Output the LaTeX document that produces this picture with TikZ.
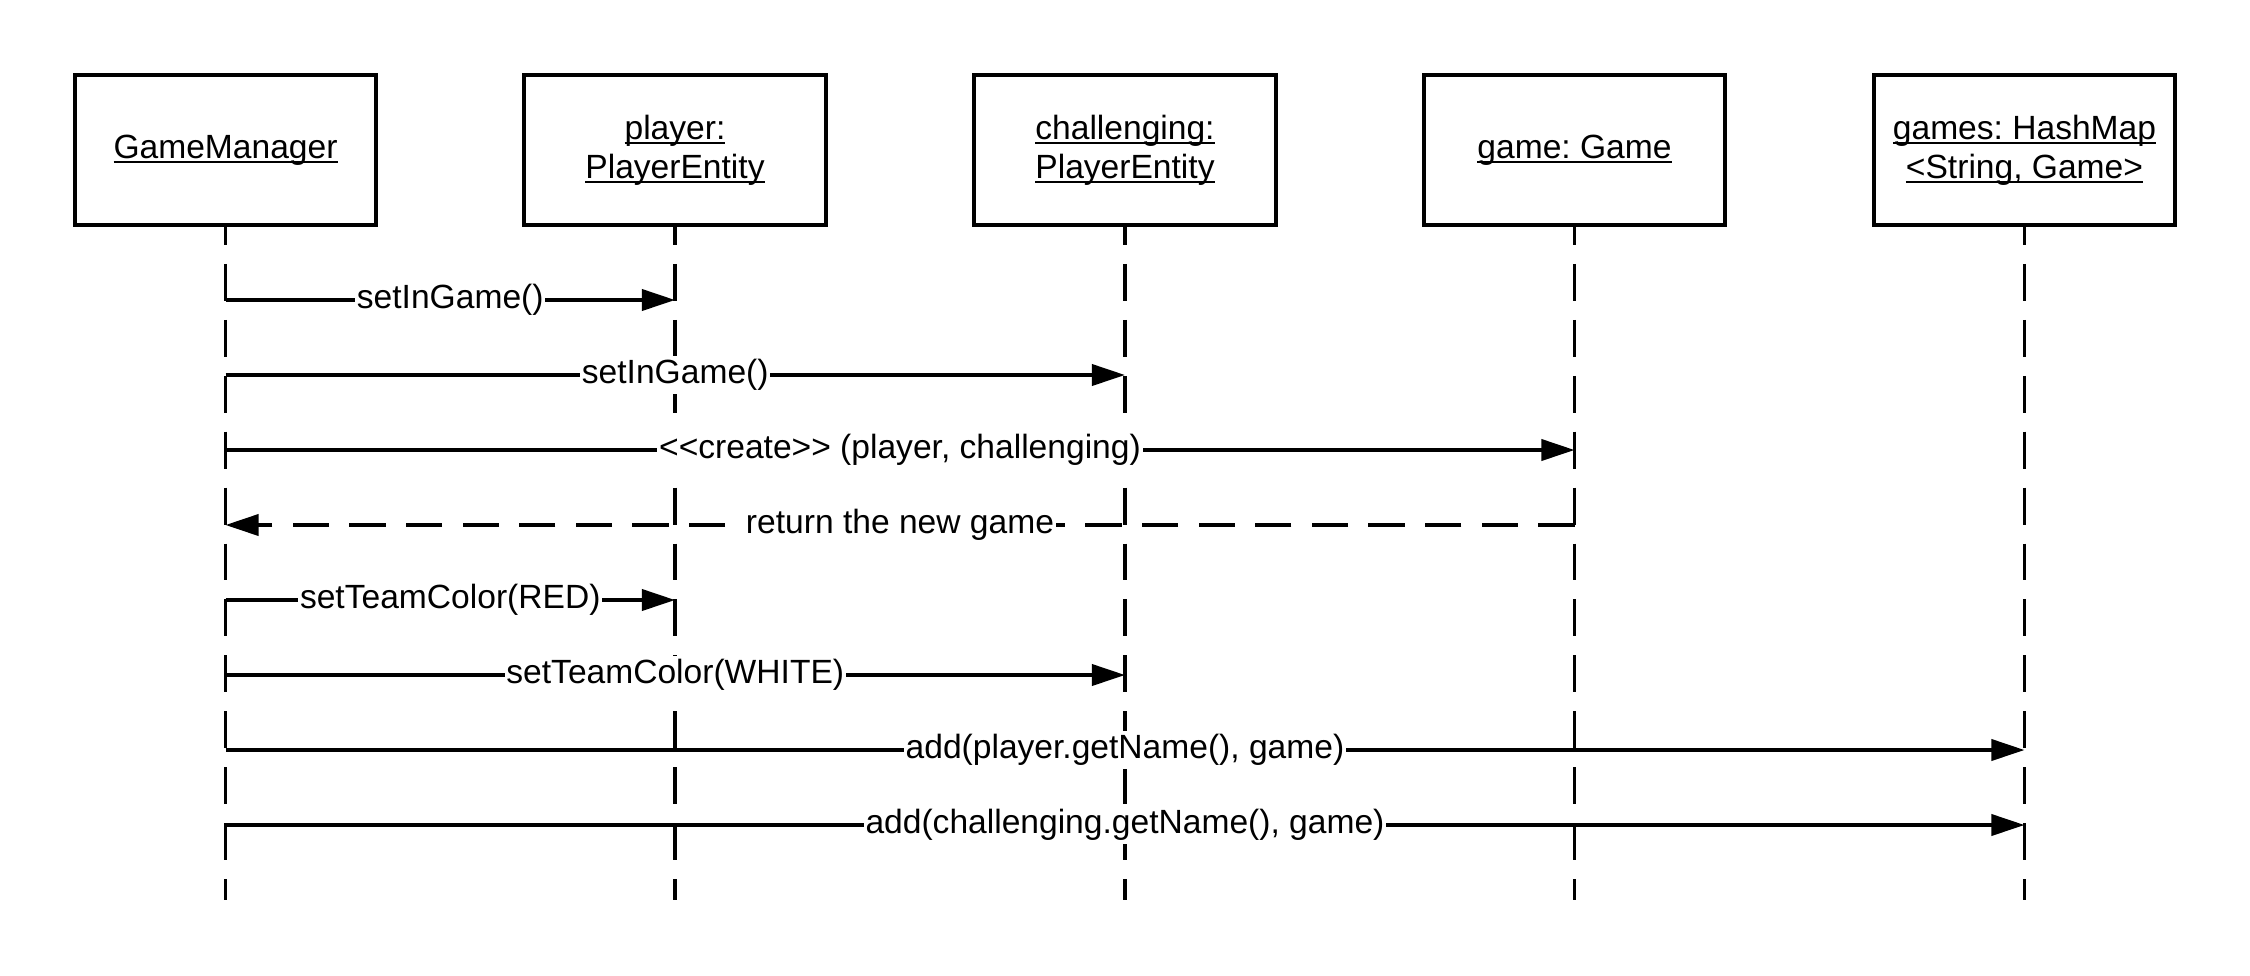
\documentclass[tikz,border=0pt]{standalone}
\usepackage{fontspec}
\setmainfont{Liberation Sans}
\usetikzlibrary{arrows.meta}
\frenchspacing

% underlined object name
\newcommand{\objname}[1]{\setbox0\hbox{#1}\rlap{\rule[-1.3pt]{\wd0}{0.45pt}}\box0}

\tikzset{
	object/.style={draw, line width=1.15pt, minimum width=3.01cm, minimum height=1.5cm,
		align=center, inner sep=0pt, font=\fontsize{9.55}{11}\selectfont},
	lifeline/.style={line width=1.1pt, dash pattern=on 10.5pt off 5.4pt, dash phase=5.4pt},
	msg/.style={line width=1.05pt, -{Triangle[length=0.33cm,width=0.21cm]}},
	reply/.style={msg, dash pattern=on 10.3pt off 5.8pt},
	lbl/.style={fill=white, inner xsep=0.5pt, inner ysep=1pt, font=\fontsize{9.55}{11}\selectfont},
}

\begin{document}
\begin{tikzpicture}[x=0.01cm,y=-0.01cm]

		\useasboundingbox (0,0) rectangle (2250,975);

		% Objects
		\node [object] (gm) at (225.5,150) {\objname{GameManager}};
		\node [object] (player) at (675,150) {\objname{player:}\\\objname{PlayerEntity}};
		\node [object] (chal) at (1125,150) {\objname{challenging:}\\\objname{PlayerEntity}};
		\node [object] (game) at (1574.5,150) {\objname{game: Game}};
		\node [object] (games) at (2024.5,150) {\objname{games: HashMap}\\\objname{<String, Game>}};

		% Lifelines
		\coordinate (end) at (0,900);
		\foreach \o in {gm,player,chal,game,games}
			\draw [lifeline] (\o.south) -- (\o |- end);

		% Message rows
		\coordinate (m1) at (0,300);
		\coordinate (m2) at (0,375);
		\coordinate (m3) at (0,450);
		\coordinate (m4) at (0,525);
		\coordinate (m5) at (0,600);
		\coordinate (m6) at (0,675);
		\coordinate (m7) at (0,750);
		\coordinate (m8) at (0,825);

		% Messages
		\draw [msg] (gm |- m1) -- (player |- m1) node [lbl, midway] {setInGame()};
		\draw [msg] (gm |- m2) -- (chal |- m2) node [lbl, midway] {setInGame()};
		\draw [msg] (gm |- m3) -- (game |- m3) node [lbl, midway] {<{}<create>{}> (player, challenging)};
		\draw [reply] (game |- m4) -- (gm |- m4) node [lbl, midway] {return the new game};
		\draw [msg] (gm |- m5) -- (player |- m5) node [lbl, midway] {setTeamColor(RED)};
		\draw [msg] (gm |- m6) -- (chal |- m6) node [lbl, midway] {setTeamColor(WHITE)};
		\draw [msg] (gm |- m7) -- (games |- m7) node [lbl, midway] {add(player.getName(), game)};
		\draw [msg] (gm |- m8) -- (games |- m8) node [lbl, midway] {add(challenging.getName(), game)};

	\end{tikzpicture}
\end{document}
